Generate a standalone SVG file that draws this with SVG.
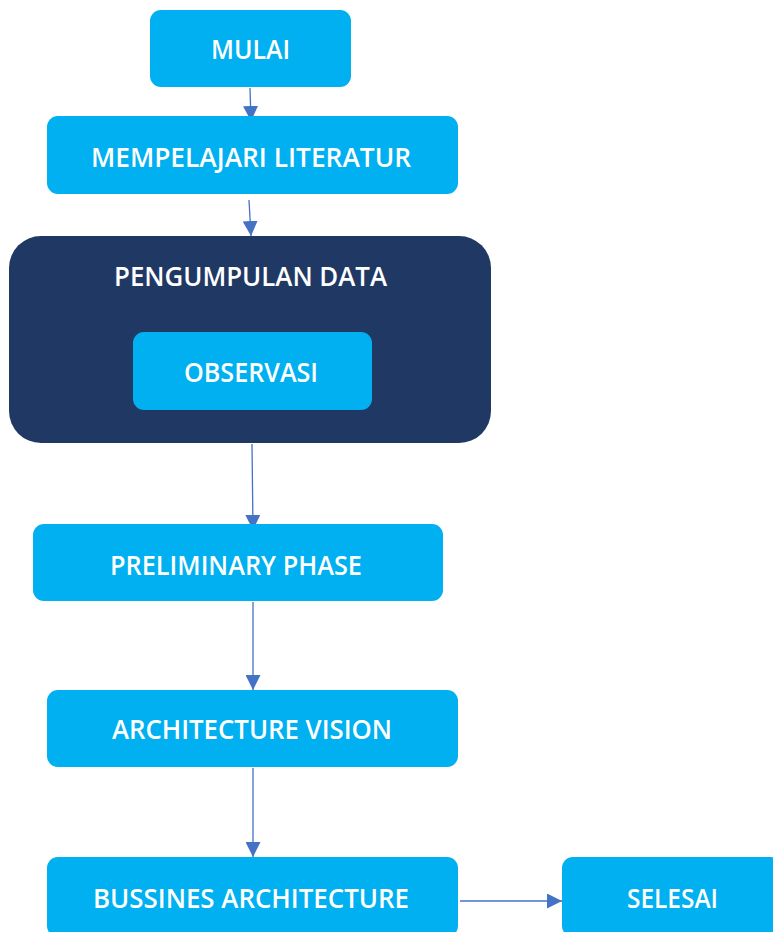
<svg xmlns="http://www.w3.org/2000/svg" width="773" height="932" viewBox="0 0 773 932">
  <defs>
    <marker id="arrow" viewBox="0 0 10 10" refX="10" refY="5" markerWidth="15" markerHeight="15" markerUnits="userSpaceOnUse" orient="auto">
      <path d="M0,0 L10,5 L0,10 Z" fill="#4472C4"/>
    </marker>
    <style>
      .box { fill: #00B0F0; }
      .group { fill: #203864; }
      .label { fill: #FFFFFF; font-family: "Open Sans", "Liberation Sans", sans-serif; font-size: 27.5px; font-weight: 600; text-anchor: middle; }
      .edge { stroke: #4472C4; stroke-width: 1.3; fill: none; marker-end: url(#arrow); }
    </style>
  </defs>
  <rect width="773" height="932" fill="#FFFFFF"/>

  <g id="connectors">
    <line class="edge" x1="250" y1="88" x2="251" y2="121"/>
    <line class="edge" x1="249" y1="200" x2="251" y2="236"/>
    <line class="edge" x1="252" y1="444" x2="253" y2="530"/>
    <line class="edge" x1="253" y1="602" x2="253" y2="690"/>
    <line class="edge" x1="253" y1="768" x2="253" y2="857"/>
    <line class="edge" x1="460" y1="901" x2="562" y2="901"/>
  </g>

  <g id="mulai">
    <rect class="box" x="150" y="10" width="201" height="77" rx="11"/>
    <text class="label" x="250.5" y="59" textLength="79" lengthAdjust="spacingAndGlyphs">MULAI</text>
  </g>

  <g id="mempelajari-literatur">
    <rect class="box" x="47" y="116" width="411" height="78" rx="11"/>
    <text class="label" x="251" y="167" textLength="320" lengthAdjust="spacingAndGlyphs">MEMPELAJARI LITERATUR</text>
  </g>

  <g id="pengumpulan-data">
    <rect class="group" x="9" y="236" width="482" height="207" rx="32"/>
    <text class="label" x="250.5" y="286" textLength="273" lengthAdjust="spacingAndGlyphs">PENGUMPULAN DATA</text>
  </g>

  <g id="observasi">
    <rect class="box" x="133" y="332" width="239" height="78" rx="11"/>
    <text class="label" x="251" y="382" textLength="134" lengthAdjust="spacingAndGlyphs">OBSERVASI</text>
  </g>

  <g id="preliminary-phase">
    <rect class="box" x="33" y="524" width="410" height="77" rx="11"/>
    <text class="label" x="236" y="575" textLength="252" lengthAdjust="spacingAndGlyphs">PRELIMINARY PHASE</text>
  </g>

  <g id="architecture-vision">
    <rect class="box" x="47" y="690" width="411" height="77" rx="11"/>
    <text class="label" x="252" y="739" textLength="280" lengthAdjust="spacingAndGlyphs">ARCHITECTURE VISION</text>
  </g>

  <g id="bussines-architecture">
    <rect class="box" x="47" y="857" width="411" height="80" rx="11"/>
    <text class="label" x="251" y="908" textLength="316" lengthAdjust="spacingAndGlyphs">BUSSINES ARCHITECTURE</text>
  </g>

  <g id="selesai">
    <rect class="box" x="562" y="857" width="220" height="80" rx="11"/>
    <text class="label" x="672.5" y="908" textLength="91" lengthAdjust="spacingAndGlyphs">SELESAI</text>
  </g>
</svg>
